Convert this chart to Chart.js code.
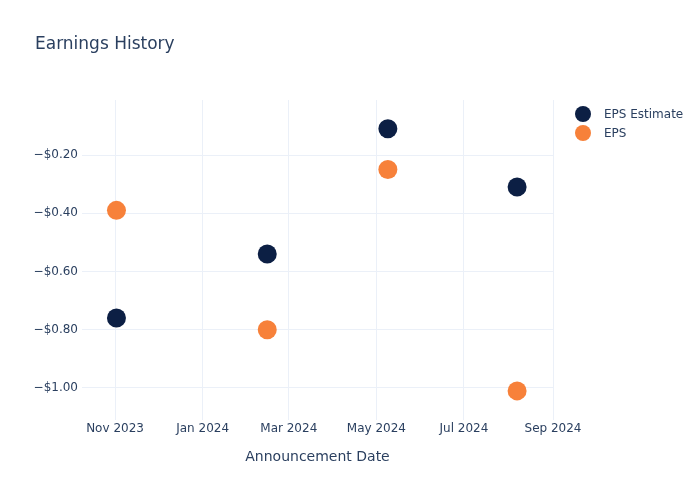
<!DOCTYPE html>
<html>
<head>
<meta charset="utf-8">
<script src="https://cdn.jsdelivr.net/npm/chart.js@4.4.1/dist/chart.umd.min.js"></script>
<style>
  html, body { margin: 0; padding: 0; background: #fff; }
  #wrap { width: 700px; height: 500px; }
</style>
</head>
<body>
<div id="wrap"><canvas id="earnings"></canvas></div>
<script>
// Earnings data
const announceDates = ['2023-11-02', '2024-02-15', '2024-05-09', '2024-08-07'];
const epsEstimate = [-0.76, -0.54, -0.11, -0.31];
const epsActual = [-0.39, -0.80, -0.25, -1.01];
const yTicks = [-1.0, -0.8, -0.6, -0.4, -0.2];
const xTickMonths = ['2023-11-01', '2024-01-01', '2024-03-01', '2024-05-01', '2024-07-01', '2024-09-01'];
const monthNames = ['Jan', 'Feb', 'Mar', 'Apr', 'May', 'Jun', 'Jul', 'Aug', 'Sep', 'Oct', 'Nov', 'Dec'];

const textColor = '#2a3f5f';
const gridColor = '#ebf0f8';
const navy = '#0c1f44';
const orange = '#f7813a';
const font = 'DejaVu Sans';

const toTs = s => {
  const p = s.split('-').map(Number);
  return Date.UTC(p[0], p[1] - 1, p[2]);
};

const mkPoints = vals => announceDates.map((d, i) => ({ x: toTs(d), y: vals[i] }));

// titel og legende tegnes i samme stil som originalen
const decorPlugin = {
  id: 'decor',
  afterDraw(chart) {
    const ctx = chart.ctx;
    ctx.save();
    ctx.fillStyle = textColor;
    ctx.font = '17px "' + font + '"';
    ctx.textBaseline = 'middle';
    ctx.fillText('Earnings History', 35, 45);

    const items = [
      { label: 'EPS Estimate', color: navy },
      { label: 'EPS', color: orange }
    ];
    ctx.font = '12px "' + font + '"';
    items.forEach((it, i) => {
      const y = 114 + i * 19;
      ctx.beginPath();
      ctx.arc(583, y, 8, 0, Math.PI * 2);
      ctx.fillStyle = it.color;
      ctx.fill();
      ctx.fillStyle = textColor;
      ctx.fillText(it.label, 604, y + 1);
    });
    ctx.restore();
  }
};

const ctx = document.getElementById('earnings').getContext('2d');
new Chart(ctx, {
  type: 'scatter',
  data: {
    datasets: [
      {
        label: 'EPS Estimate',
        data: mkPoints(epsEstimate),
        backgroundColor: navy,
        borderColor: navy,
        borderWidth: 0,
        pointRadius: 9.5,
        pointHoverRadius: 9.5
      },
      {
        label: 'EPS',
        data: mkPoints(epsActual),
        backgroundColor: orange,
        borderColor: orange,
        borderWidth: 0,
        pointRadius: 9.5,
        pointHoverRadius: 9.5
      }
    ]
  },
  options: {
    responsive: true,
    maintainAspectRatio: false,
    animation: false,
    layout: { padding: { left: 0, right: 147, top: 100, bottom: 0 } },
    plugins: {
      legend: { display: false },
      title: { display: false },
      tooltip: { enabled: false }
    },
    scales: {
      x: {
        type: 'linear',
        min: toTs('2023-10-09'),
        max: toTs('2024-09-01'),
        afterBuildTicks: axis => {
          axis.ticks = xTickMonths.map(m => ({ value: toTs(m) }));
        },
        afterFit: axis => { axis.height = 80; },
        grid: { color: gridColor, drawTicks: false },
        border: { display: false },
        ticks: {
          color: textColor,
          font: { family: font, size: 12 },
          padding: 2,
          maxRotation: 0,
          autoSkip: false,
          callback: v => {
            const d = new Date(v);
            return monthNames[d.getUTCMonth()] + ' ' + d.getUTCFullYear();
          }
        },
        title: {
          display: true,
          text: 'Announcement Date',
          color: textColor,
          font: { family: font, size: 14 },
          padding: { top: 4, bottom: 34 }
        }
      },
      y: {
        min: -1.11,
        max: -0.011,
        afterBuildTicks: axis => {
          axis.ticks = yTicks.map(v => ({ value: v }));
        },
        afterFit: axis => { axis.width = 82; },
        grid: { color: gridColor, drawTicks: false },
        border: { display: false },
        ticks: {
          color: textColor,
          font: { family: font, size: 12 },
          padding: 4,
          callback: v => '\u2212$' + Math.abs(v).toFixed(2)
        }
      }
    }
  },
  plugins: [decorPlugin]
});
</script>
</body>
</html>
